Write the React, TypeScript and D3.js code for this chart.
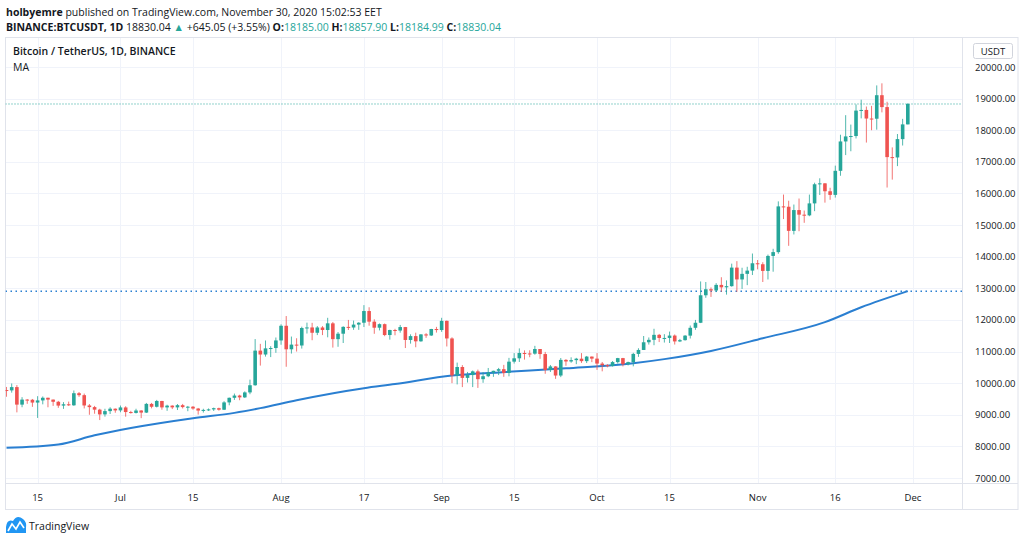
import React, { useRef, useEffect } from "react";
import * as d3 from "d3";

// daily candles [open, high, low, close], BINANCE BTCUSDT, from 9 Jun 2020
const junCandles: number[][] = [
  [9783, 9880, 9570, 9771], [9771, 9990, 9700, 9875], [9875, 9939, 9076, 9321],
  [9321, 9557, 9238, 9480], [9480, 9497, 9346, 9475], [9475, 9500, 9250, 9386],
  [9386, 9588, 8900, 9454], [9454, 9579, 9330, 9538], [9538, 9540, 9237, 9480],
  [9480, 9482, 9281, 9411], [9411, 9438, 9220, 9290], [9290, 9400, 9186, 9332],
  [9332, 9416, 9280, 9299], [9299, 9768, 9282, 9682], [9682, 9720, 9567, 9620],
  [9620, 9670, 9200, 9294], [9294, 9340, 9000, 9242], [9242, 9280, 9033, 9162],
  [9162, 9190, 8833, 9012], [9012, 9190, 8940, 9116], [9116, 9238, 9024, 9192],
  [9192, 9200, 9064, 9138],
];
const julCandles: number[][] = [
  [9138, 9292, 9080, 9232], [9232, 9270, 8940, 9086], [9086, 9125, 9037, 9058],
  [9058, 9190, 9040, 9135], [9135, 9145, 8893, 9069], [9069, 9375, 9055, 9344],
  [9344, 9375, 9203, 9253], [9253, 9470, 9231, 9436], [9436, 9440, 9160, 9233],
  [9233, 9317, 9125, 9289], [9289, 9300, 9180, 9234], [9234, 9340, 9150, 9303],
  [9303, 9343, 9200, 9243], [9243, 9279, 9113, 9255], [9255, 9275, 9160, 9197],
  [9197, 9216, 9005, 9133], [9133, 9190, 9070, 9154], [9154, 9200, 9120, 9170],
  [9170, 9226, 9121, 9208], [9208, 9225, 9131, 9160], [9160, 9430, 9150, 9391],
  [9391, 9545, 9300, 9537], [9537, 9670, 9470, 9608], [9608, 9634, 9460, 9550],
  [9550, 9740, 9530, 9707], [9707, 10111, 9650, 9934], [9934, 11394, 9917, 11029],
  [11029, 11243, 10555, 10906], [10906, 11350, 10840, 11100], [11100, 11170, 10824, 11111],
  [11111, 11444, 10960, 11351],
];
const augCandles: number[][] = [
  [11351, 11861, 11215, 11815], [11815, 12123, 10518, 11071], [11071, 11474, 10936, 11219],
  [11219, 11420, 11000, 11191], [11191, 11786, 11094, 11744], [11744, 11914, 11570, 11762],
  [11762, 11908, 11358, 11594], [11594, 11806, 11520, 11761], [11761, 11804, 11520, 11681],
  [11681, 12067, 11450, 11892], [11892, 11935, 11125, 11392], [11392, 11617, 11150, 11564],
  [11564, 11800, 11270, 11780], [11780, 12000, 11681, 11760], [11760, 11980, 11687, 11852],
  [11852, 11930, 11686, 11911], [11911, 12468, 11775, 12281], [12281, 12400, 11817, 11945],
  [11945, 12020, 11561, 11754], [11754, 11888, 11668, 11866], [11866, 11886, 11485, 11522],
  [11522, 11690, 11376, 11681], [11681, 11718, 11514, 11664], [11664, 11841, 11596, 11774],
  [11774, 11778, 11111, 11366], [11366, 11544, 11250, 11488], [11488, 11596, 11136, 11323],
  [11323, 11550, 11310, 11542], [11542, 11580, 11433, 11508], [11508, 11718, 11492, 11713],
  [11713, 11780, 11600, 11680],
];
const sepCandles: number[][] = [
  [11680, 12067, 11622, 11971], [11971, 11980, 11160, 11414], [11414, 11450, 10000, 10245],
  [10245, 10650, 9960, 10511], [10511, 10570, 9875, 10167], [10167, 10355, 10020, 10256],
  [10256, 10400, 9875, 10373], [10373, 10428, 9850, 10126], [10126, 10350, 10011, 10219],
  [10219, 10480, 10190, 10336], [10336, 10394, 10200, 10391], [10391, 10482, 10255, 10442],
  [10442, 10578, 10200, 10323], [10323, 10800, 10216, 10680], [10680, 10950, 10620, 10786],
  [10786, 11100, 10670, 10954], [10954, 11037, 10745, 10939], [10939, 11040, 10820, 10933],
  [10933, 11180, 10900, 11080], [11080, 11080, 10770, 10920], [10920, 10988, 10296, 10417],
  [10417, 10575, 10353, 10529], [10529, 10537, 10136, 10241], [10241, 10795, 10190, 10736],
  [10736, 10760, 10550, 10686], [10686, 10817, 10646, 10728], [10728, 10800, 10600, 10774],
  [10774, 10950, 10640, 10696], [10696, 10860, 10636, 10840], [10840, 10845, 10665, 10776],
];
const octCandles: number[][] = [
  [10776, 10950, 10420, 10619], [10619, 10670, 10374, 10570], [10570, 10600, 10500, 10542],
  [10542, 10700, 10525, 10666], [10666, 10800, 10620, 10792], [10792, 10800, 10530, 10599],
  [10599, 10681, 10560, 10666], [10666, 10960, 10532, 10925], [10925, 11104, 10831, 11050],
  [11050, 11491, 11050, 11293], [11293, 11445, 11221, 11370], [11370, 11720, 11200, 11528],
  [11528, 11557, 11300, 11429], [11429, 11549, 11284, 11430], [11430, 11631, 11270, 11505],
  [11505, 11540, 11221, 11320], [11320, 11400, 11300, 11360], [11360, 11520, 11345, 11503],
  [11503, 11823, 11412, 11751], [11751, 12000, 11687, 11910], [11910, 13217, 11900, 12780],
  [12780, 13199, 12700, 12970], [12970, 13027, 12728, 12931], [12931, 13163, 12880, 13108],
  [13108, 13350, 12888, 13031], [13031, 13250, 12800, 13068], [13068, 13780, 13050, 13655],
  [13655, 13859, 12888, 13281], [13281, 13650, 12980, 13457], [13457, 13681, 13100, 13560],
  [13560, 14100, 13420, 13792],
];
const novCandles: number[][] = [
  [13792, 13895, 13600, 13761], [13761, 13825, 13200, 13550], [13550, 14067, 13280, 14024],
  [14024, 14250, 13525, 14145], [14145, 15750, 14093, 15591], [15591, 15965, 15190, 15580],
  [15580, 15770, 14344, 14817], [14817, 15650, 14703, 15475], [15475, 15840, 14805, 15329],
  [15329, 15460, 15072, 15307], [15307, 15965, 15280, 15686], [15686, 16340, 15440, 16291],
  [16291, 16480, 15952, 16320], [16320, 16326, 15710, 16070], [16070, 16180, 15800, 15955],
  [15955, 16880, 15870, 16716], [16716, 17858, 16560, 17645], [17645, 18476, 17214, 17804],
  [17804, 18179, 17335, 17817], [17817, 18815, 17740, 18621], [18621, 18965, 18375, 18642],
  [18642, 18750, 17610, 18370], [18370, 18770, 18000, 18364], [18364, 19418, 18018, 19108],
  [19108, 19484, 18565, 18732], [18732, 18900, 16188, 17150], [17150, 17457, 16438, 17139],
  [17139, 17880, 16865, 17719], [17719, 18360, 17517, 18185], [18185, 18857.9, 18184.99, 18830.04],
];

// MA line
const maDates = [
  "2020-06-09", "2020-06-19", "2020-06-26", "2020-07-03", "2020-07-15", "2020-07-23",
  "2020-07-28", "2020-08-04", "2020-08-17", "2020-08-23", "2020-09-03", "2020-09-12",
  "2020-09-25", "2020-10-08", "2020-10-14", "2020-10-23", "2020-11-02", "2020-11-14",
  "2020-11-21", "2020-11-30",
];
const maValues = [
  7955, 8060, 8350, 8580, 8890, 9060, 9210, 9460, 9840, 9970, 10240, 10340,
  10470, 10630, 10760, 11020, 11420, 11930, 12400, 12910,
];

const priceTicks = [7000, 8000, 9000, 10000, 11000, 12000, 13000, 14000, 15000, 16000, 17000, 18000, 19000, 20000];
const timeTicks = ["2020-06-15", "2020-07-01", "2020-07-15", "2020-08-01", "2020-08-17", "2020-09-01", "2020-09-15", "2020-10-01", "2020-10-15", "2020-11-01", "2020-11-16", "2020-12-01"];
const timeLabels = ["15", "Jul", "15", "Aug", "17", "Sep", "15", "Oct", "15", "Nov", "16", "Dec"];

const lastPrice = 18830.04;
const lastMA = 12910;

const UP = "#26a69a";
const DOWN = "#ef5350";
const MA_COLOR = "#2a7fd1";
const FONT = "'Open Sans', 'Noto Sans', sans-serif";

const parse = d3.timeParse("%Y-%m-%d");

const App: React.FC = () => {
  const svgRef = useRef<SVGSVGElement | null>(null);

  useEffect(() => {
    if (!svgRef.current) return;
    const svg = d3.select(svgRef.current);
    svg.selectAll("*").remove();

    const paneL = 5.5, paneR = 962, paneT = 37, paneB = 483, axisR = 1018, timeB = 509;

    const candles = [...junCandles, ...julCandles, ...augCandles, ...sepCandles, ...octCandles, ...novCandles];
    const start = parse("2020-06-09")!;
    const dates = candles.map((_, i) => d3.timeDay.offset(start, i));

    const x = d3.scaleTime()
      .domain([parse("2020-06-15")!, parse("2020-12-01")!])
      .range([37.6, 913]);
    const y = d3.scaleLinear().domain([7000, 20000]).range([478, 67]);

    svg.append("rect").attr("width", 1024).attr("height", 541).attr("fill", "#fff");

    svg.append("defs").append("clipPath").attr("id", "pane")
      .append("rect").attr("x", paneL).attr("y", paneT).attr("width", paneR - paneL).attr("height", paneB - paneT);

    // grid
    const grid = svg.append("g").attr("stroke", "#f0f3fa").attr("stroke-width", 1);
    grid.selectAll(".hg").data(priceTicks).enter().append("line")
      .attr("x1", paneL).attr("x2", paneR)
      .attr("y1", (d) => Math.round(y(d)) + 0.5).attr("y2", (d) => Math.round(y(d)) + 0.5);
    grid.selectAll(".vg").data(timeTicks).enter().append("line")
      .attr("x1", (d) => Math.round(x(parse(d)!)) + 0.5).attr("x2", (d) => Math.round(x(parse(d)!)) + 0.5)
      .attr("y1", paneT).attr("y2", paneB);

    // frame
    const frame = svg.append("g").attr("stroke", "#e0e3eb").attr("fill", "none");
    frame.append("rect").attr("x", paneL).attr("y", paneT + 0.5).attr("width", axisR - paneL).attr("height", timeB - paneT);
    frame.append("line").attr("x1", paneR + 0.5).attr("x2", paneR + 0.5).attr("y1", paneT).attr("y2", timeB);
    frame.append("line").attr("x1", paneL).attr("x2", axisR).attr("y1", paneB + 0.5).attr("y2", paneB + 0.5);

    const plot = svg.append("g").attr("clip-path", "url(#pane)");

    // horizontal price lines
    plot.append("line")
      .attr("x1", paneL).attr("x2", paneR)
      .attr("y1", y(lastPrice)).attr("y2", y(lastPrice))
      .attr("stroke", UP).attr("stroke-width", 1).attr("stroke-dasharray", "1 2");
    plot.append("line")
      .attr("x1", paneL).attr("x2", paneR)
      .attr("y1", y(lastMA)).attr("y2", y(lastMA))
      .attr("stroke", MA_COLOR).attr("stroke-width", 1.5).attr("stroke-dasharray", "1.5 3.5");

    // MA
    const maPts = maDates.map((d, i) => [x(parse(d)!), y(maValues[i])] as [number, number]);
    plot.append("path")
      .attr("d", d3.line().curve(d3.curveMonotoneX)(maPts))
      .attr("fill", "none").attr("stroke", MA_COLOR).attr("stroke-width", 2);

    // candles
    const bw = 3.6;
    const cg = plot.selectAll(".candle").data(candles).enter().append("g");
    cg.append("line")
      .attr("x1", (_, i) => x(dates[i])).attr("x2", (_, i) => x(dates[i]))
      .attr("y1", (d) => y(d[1])).attr("y2", (d) => y(d[2]))
      .attr("stroke", (d) => (d[3] >= d[0] ? UP : DOWN)).attr("stroke-width", 1)
      .attr("stroke-opacity", 0.8);
    cg.append("rect")
      .attr("x", (_, i) => x(dates[i]) - bw / 2)
      .attr("y", (d) => y(Math.max(d[0], d[3])))
      .attr("width", bw)
      .attr("height", (d) => Math.max(1, Math.abs(y(d[0]) - y(d[3]))))
      .attr("fill", (d) => (d[3] >= d[0] ? UP : DOWN));

    // price axis
    svg.selectAll(".pl").data(priceTicks).enter().append("text")
      .attr("x", 975).attr("y", (d) => y(d) + 3.5)
      .attr("font-family", FONT).attr("font-size", 9.5).attr("fill", "#131722")
      .text((d) => d.toFixed(2));
    svg.append("rect").attr("x", 973.5).attr("y", 43.5).attr("width", 39).attr("height", 15).attr("rx", 2)
      .attr("fill", "#fff").attr("stroke", "#d1d4dc");
    svg.append("text").attr("x", 993).attr("y", 54.5).attr("text-anchor", "middle")
      .attr("font-family", FONT).attr("font-size", 9.5).attr("fill", "#131722").text("USDT");

    // time axis
    svg.selectAll(".tl").data(timeTicks).enter().append("text")
      .attr("x", (d) => x(parse(d)!)).attr("y", 501)
      .attr("text-anchor", "middle")
      .attr("font-family", FONT).attr("font-size", 9.5).attr("fill", "#131722")
      .text((_, i) => timeLabels[i]);

    // pane legend
    svg.append("text").attr("x", 13).attr("y", 55)
      .attr("font-family", FONT).attr("font-size", 10.5).attr("font-weight", 600).attr("fill", "#131722")
      .text("Bitcoin / TetherUS, 1D, BINANCE");
    svg.append("text").attr("x", 13).attr("y", 71)
      .attr("font-family", FONT).attr("font-size", 10.5).attr("fill", "#131722").text("MA");

    // header
    const h1 = svg.append("text").attr("x", 6).attr("y", 16)
      .attr("font-family", FONT).attr("font-size", 10.5).attr("fill", "#131722");
    h1.append("tspan").attr("font-weight", 700).text("holbyemre");
    h1.append("tspan").text(" published on TradingView.com, November 30, 2020 15:02:53 EET");

    const h2 = svg.append("text").attr("x", 6).attr("y", 31)
      .attr("font-family", FONT).attr("font-size", 10.5).attr("fill", "#131722");
    h2.append("tspan").attr("font-weight", 700).text("BINANCE:BTCUSDT, 1D");
    h2.append("tspan").text("  18830.04 ");
    h2.append("tspan").attr("fill", UP).text("▲");
    h2.append("tspan").text(" +645.05 (+3.55%) ");
    const ohlc: [string, string][] = [["O:", "18185.00"], ["H:", "18857.90"], ["L:", "18184.99"], ["C:", "18830.04"]];
    ohlc.forEach(([k, v]) => {
      h2.append("tspan").attr("font-weight", 700).text(" " + k);
      h2.append("tspan").attr("fill", UP).text(v);
    });

    // TradingView logo
    const logo = svg.append("g");
    logo.append("path")
      .attr("d", "M6,533 L6,527 Q7,519 13,521 Q17,514 23,519 Q27,522 26,528 L26,533 Z")
      .attr("fill", "#2196f3");
    logo.append("polyline")
      .attr("points", "8,531 12,524 16,529 20,522 24,528")
      .attr("fill", "none").attr("stroke", "#fff").attr("stroke-width", 1.6);
    logo.append("text").attr("x", 29).attr("y", 530)
      .attr("font-family", FONT).attr("font-size", 10.5).attr("fill", "#131722").text("TradingView");
  }, []);

  return (
    <div style={{ position: "absolute", left: 0, top: 0 }}>
      <svg ref={svgRef} width={1024} height={541} style={{ display: "block" }}></svg>
    </div>
  );
};

export default App;
